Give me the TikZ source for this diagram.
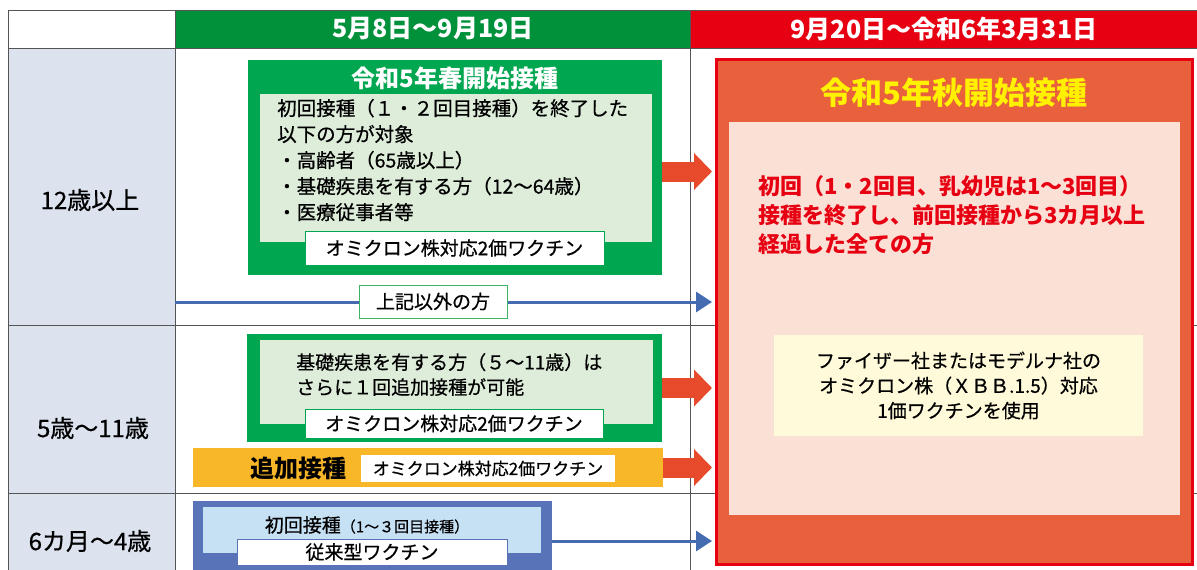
\documentclass[tikz,border=0pt]{standalone}
\usepackage{fontspec}
\setmainfont{Noto Sans CJK JP}[UprightFeatures={FakeBold=0.6}]
\usetikzlibrary{arrows.meta}
\definecolor{hdrgreen}{HTML}{00913A}
\definecolor{hdrred}{HTML}{E60012}
\definecolor{rowblue}{HTML}{DCE3EF}
\definecolor{gridgray}{HTML}{555555}
\definecolor{springgreen}{HTML}{00A650}
\definecolor{palegreen}{HTML}{DEEDDA}
\definecolor{autumnfill}{HTML}{E9603D}
\definecolor{pinkfill}{HTML}{FBE0D5}
\definecolor{titleyellow}{HTML}{FFF100}
\definecolor{notefill}{HTML}{FFFBDA}
\definecolor{arroworange}{HTML}{E84B2C}
\definecolor{arrowblue}{HTML}{456CB0}
\definecolor{boostgold}{HTML}{F8B728}
\definecolor{infantblue}{HTML}{5873B8}
\definecolor{paleblue}{HTML}{C7E1F4}
\definecolor{labelgreen}{HTML}{3CB464}

\begin{document}
\begin{tikzpicture}[x=1pt, y=-1pt,
    panel/.style={rectangle, inner sep=0pt, outer sep=0pt, anchor=north west},
    vaccine/.style={rectangle, fill=white, inner sep=0pt, outer sep=0pt, font=\fontsize{19}{19}\selectfont},
    hdrtext/.style={text=white, font=\fontsize{25}{25}\selectfont\bfseries},
    agetext/.style={font=\fontsize{24}{24}\selectfont},
    bigarrow/.style={draw=arroworange, line width=20pt, -{Triangle[length=18pt,width=36pt]}, shorten >=4pt},
    thinarrow/.style={draw=arrowblue, line width=3pt, -{Triangle[length=16pt,width=20pt]}, shorten >=4pt}]
   \useasboundingbox (0,0) rectangle (1197,570);
   \fill[white] (0,0) rectangle (1197,570);
   \fill[rowblue] (8,48) rectangle (175,570);
   \fill[hdrgreen] (175,10) rectangle (690,48);
   \fill[hdrred] (690,10) rectangle (1197,48);
   \draw[gridgray, line width=1pt] (8,10) -- (1197,10) (8,48) -- (1197,48)
     (8,325) -- (1197,325) (8,493) -- (1197,493)
     (8,10) -- (8,570) (175,10) -- (175,570) (690,10) -- (690,570);
   \node[hdrtext] (hdrspring) at (433,29) {5月8日～9月19日};
   \node[hdrtext] (hdrautumn) at (944,29) {9月20日～令和6年3月31日};
   \node[agetext] (age12) at (90,200) {12歳以上};
   \node[agetext] (age5) at (93,428) {5歳～11歳};
   \node[agetext] (age0) at (90,541) {6カ月～4歳};

   \node[panel, fill=springgreen, minimum width=414pt, minimum height=215pt] (spring) at (248,60) {};
   \node[panel, fill=palegreen, minimum width=392pt, minimum height=148pt] (springin) at (260,94) {};
   \node[text=white, font=\fontsize{24}{24}\selectfont\bfseries] (springtitle) at (455,78) {令和5年春開始接種};
   \node[anchor=west, inner sep=0pt, align=left, font=\fontsize{19.5}{26}\selectfont] (springtext) at (277,160)
     {初回接種（１・２回目接種）を終了した\\以下の方が対象\\・高齢者（65歳以上）\\・基礎疾患を有する方（12～64歳）\\・医療従事者等};
   \node[vaccine, draw=springgreen, minimum width=299pt, minimum height=34pt] (springvac) at (454.5,248) {オミクロン株対応2価ワクチン};

   \node[panel, fill=autumnfill, draw=hdrred, line width=3pt, minimum width=476pt, minimum height=505pt] (autumn) at (716,59) {};
   \node[panel, fill=pinkfill, minimum width=451pt, minimum height=393pt] (autumnin) at (729,122) {};
   \node[text=titleyellow, font=\fontsize{31}{31}\selectfont\bfseries] (autumntitle) at (954,93) {令和5年秋開始接種};
   \node[anchor=west, inner sep=0pt, align=left, text=hdrred, font=\fontsize{22}{29}\selectfont\bfseries] (autumntext) at (758,215)
     {初回（1・2回目、乳幼児は1～3回目）\\接種を終了し、前回接種から3カ月以上\\経過した全ての方};
   \node[fill=notefill, minimum width=369pt, minimum height=101pt, align=center, font=\fontsize{19}{25}\selectfont] (note) at (958.5,385.5)
     {ファイザー社またはモデルナ社の\\オミクロン株（ＸＢＢ.1.5）対応\\1価ワクチンを使用};

   \node[panel, fill=springgreen, minimum width=415pt, minimum height=108pt] (extra) at (247,334) {};
   \node[panel, fill=palegreen, minimum width=393pt, minimum height=84pt] (extrain) at (260,340) {};
   \node[anchor=west, inner sep=0pt, align=left, font=\fontsize{19}{25}\selectfont] (extratext) at (296,374.5)
     {基礎疾患を有する方（５～11歳）は\\さらに１回追加接種が可能};
   \node[vaccine, draw=springgreen, minimum width=298pt, minimum height=29pt] (extravac) at (454,423.5) {オミクロン株対応2価ワクチン};

   \node[panel, fill=boostgold, minimum width=470pt, minimum height=39pt] (boost) at (193,448) {};
   \node[font=\fontsize{24}{24}\selectfont\bfseries] (boosttitle) at (298,468) {追加接種};
   \node[vaccine, minimum width=254pt, minimum height=27pt, font=\fontsize{17}{17}\selectfont] (boostvac) at (488,468.5) {オミクロン株対応2価ワクチン};

   \node[panel, fill=infantblue, minimum width=359pt, minimum height=80pt] (infant) at (193,501) {};
   \node[panel, fill=paleblue, minimum width=338pt, minimum height=46pt] (infantin) at (203,507) {};
   \node[font=\fontsize{19}{19}\selectfont] (infanttext) at (367,525) {初回接種{\fontsize{15}{15}\selectfont（1～３回目接種）}};
   \node[vaccine, draw=infantblue, minimum width=270pt, minimum height=26pt] (infantvac) at (372,552) {従来型ワクチン};

   \coordinate (springout) at ([yshift=-4pt]spring.east);
   \coordinate (otherstart) at (175,302);
   \draw[bigarrow] (springout) -- (springout -| autumn.west);
   \draw[bigarrow] (extra.east) -- (extra.east -| autumn.west);
   \draw[bigarrow] (boost.east) -- (boost.east -| autumn.west);
   \draw[thinarrow] (otherstart) -- (otherstart -| autumn.west);
   \draw[thinarrow] (infant.east) -- (infant.east -| autumn.west);
   \node[vaccine, draw=labelgreen, minimum width=148pt, minimum height=33pt] (others) at (433,301.5) {上記以外の方};
 \end{tikzpicture}
\end{document}
